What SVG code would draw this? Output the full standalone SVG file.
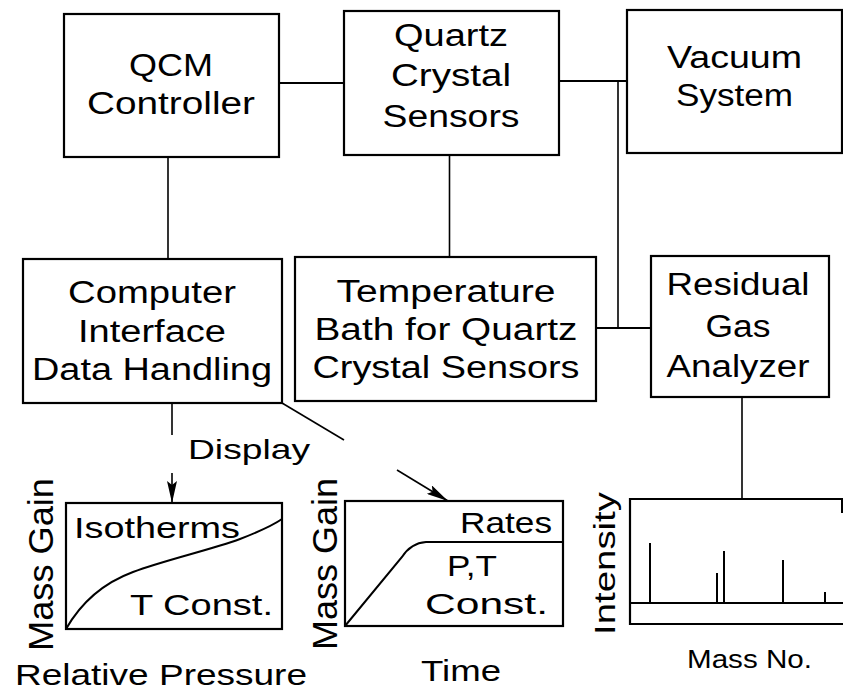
<svg xmlns="http://www.w3.org/2000/svg" width="843" height="692" viewBox="0 0 843 692">
<style>
  .box { fill: #fff; stroke: #000; stroke-width: 2.2; }
  .ln { fill: none; stroke: #000; stroke-width: 2; }
  .vl { fill: none; stroke: #000; stroke-width: 1.6; }
  .pk { fill: none; stroke: #000; stroke-width: 2; }
  text { font-family: "Liberation Sans", Arial, Helvetica, sans-serif; fill: #000; }
  .t { font-size: 31px; text-anchor: middle; }
  .p { font-size: 30px; }
  .r { font-size: 35px; }
</style>
<defs>
  <marker id="arr" viewBox="0 0 22 10" refX="22" refY="5" markerWidth="22" markerHeight="10" markerUnits="userSpaceOnUse" orient="auto">
    <path d="M0,0 L22,5 L0,10 L4,5 z" fill="#000"/>
  </marker>
</defs>
<rect width="843" height="692" fill="#fff"/>

<g id="connectors">
  <line class="ln" x1="279" y1="83" x2="344" y2="83"/>
  <line class="ln" x1="559" y1="81" x2="627" y2="81"/>
  <line class="vl" x1="618" y1="81" x2="618" y2="328"/>
  <line class="ln" x1="596" y1="328" x2="651" y2="328"/>
  <line class="vl" x1="168" y1="157" x2="168" y2="259"/>
  <line class="vl" x1="449.5" y1="155" x2="449.5" y2="257"/>
  <line class="vl" x1="742" y1="397" x2="742" y2="499"/>
  <line class="vl" x1="172" y1="403" x2="172" y2="435"/>
  <line class="vl" x1="172" y1="473" x2="172" y2="503" marker-end="url(#arr)"/>
  <line class="vl" x1="282" y1="403" x2="344" y2="440"/>
  <line class="vl" x1="397" y1="470" x2="448" y2="501" marker-end="url(#arr)"/>
</g>

<g id="qcm">
  <rect class="box" x="64" y="14" width="215" height="143"/>
  <text class="t" x="171" y="76" textLength="84" lengthAdjust="spacingAndGlyphs">QCM</text>
  <text class="t" x="171" y="114" textLength="168" lengthAdjust="spacingAndGlyphs">Controller</text>
</g>

<g id="quartz">
  <rect class="box" x="344" y="11" width="215" height="144"/>
  <text class="t" x="451" y="46" textLength="114" lengthAdjust="spacingAndGlyphs">Quartz</text>
  <text class="t" x="451" y="86" textLength="120" lengthAdjust="spacingAndGlyphs">Crystal</text>
  <text class="t" x="451" y="127" textLength="137" lengthAdjust="spacingAndGlyphs">Sensors</text>
</g>

<g id="vacuum">
  <rect class="box" x="627" y="10" width="215" height="143"/>
  <text class="t" x="734.5" y="68" textLength="135" lengthAdjust="spacingAndGlyphs">Vacuum</text>
  <text class="t" x="734.5" y="106" textLength="117" lengthAdjust="spacingAndGlyphs">System</text>
</g>

<g id="computer">
  <rect class="box" x="23" y="259" width="259" height="144"/>
  <text class="t" x="152" y="303" textLength="168" lengthAdjust="spacingAndGlyphs">Computer</text>
  <text class="t" x="152" y="342" textLength="148" lengthAdjust="spacingAndGlyphs">Interface</text>
  <text class="t" x="152" y="380" textLength="240" lengthAdjust="spacingAndGlyphs">Data Handling</text>
</g>

<g id="temperature">
  <rect class="box" x="295" y="257" width="301" height="144"/>
  <text class="t" x="446" y="302" textLength="219" lengthAdjust="spacingAndGlyphs">Temperature</text>
  <text class="t" x="446" y="340" textLength="263" lengthAdjust="spacingAndGlyphs">Bath for Quartz</text>
  <text class="t" x="446" y="378" textLength="267" lengthAdjust="spacingAndGlyphs">Crystal Sensors</text>
</g>

<g id="rga">
  <rect class="box" x="651" y="256" width="178" height="141"/>
  <text class="t" x="738" y="295" textLength="143" lengthAdjust="spacingAndGlyphs">Residual</text>
  <text class="t" x="738" y="337" textLength="65" lengthAdjust="spacingAndGlyphs">Gas</text>
  <text class="t" x="738" y="377" textLength="143" lengthAdjust="spacingAndGlyphs">Analyzer</text>
</g>

<g id="display-label">
  <text x="188" y="459" font-size="28" textLength="122" lengthAdjust="spacingAndGlyphs">Display</text>
</g>

<g id="isotherms">
  <rect class="box" x="66" y="503" width="216" height="126"/>
  <path class="ln" d="M66,629 C78,608 98,585 133,572 C165,560 210,550 240,539 C258,532 272,526 282,519"/>
  <text class="p" x="74" y="538" textLength="166" lengthAdjust="spacingAndGlyphs">Isotherms</text>
  <text class="p" x="130" y="615" textLength="143" lengthAdjust="spacingAndGlyphs">T Const.</text>
  <text class="r" transform="translate(53,651) rotate(-90)" textLength="173" lengthAdjust="spacingAndGlyphs">Mass Gain</text>
  <text class="p" x="15" y="685" textLength="292" lengthAdjust="spacingAndGlyphs">Relative Pressure</text>
</g>

<g id="rates">
  <rect class="box" x="345" y="501" width="218" height="125"/>
  <path class="ln" d="M345,626 L402,557 Q411,543 426,542 L563,542"/>
  <text class="p" x="460" y="533" textLength="92" lengthAdjust="spacingAndGlyphs">Rates</text>
  <text class="p" x="447" y="576" textLength="50" lengthAdjust="spacingAndGlyphs">P,T</text>
  <text class="p" x="425" y="614" textLength="123" lengthAdjust="spacingAndGlyphs">Const.</text>
  <text class="r" transform="translate(337,650) rotate(-90)" textLength="172" lengthAdjust="spacingAndGlyphs">Mass Gain</text>
  <text class="p" x="421" y="681" textLength="80" lengthAdjust="spacingAndGlyphs">Time</text>
</g>

<g id="spectrum">
  <path class="ln" style="stroke-width:2.2" d="M844,499 L630,499 L630,624 L844,624"/>
  <line class="ln" x1="842" y1="499" x2="842" y2="513"/>
  <line class="ln" x1="630" y1="603" x2="843" y2="603"/>
  <line class="pk" x1="650" y1="603" x2="650" y2="543"/>
  <line class="pk" x1="717" y1="603" x2="717" y2="573"/>
  <line class="pk" x1="724" y1="603" x2="724" y2="551"/>
  <line class="pk" x1="783" y1="603" x2="783" y2="560"/>
  <line class="pk" x1="825" y1="603" x2="825" y2="592"/>
  <text class="p" transform="translate(615,635) rotate(-90)" textLength="143" lengthAdjust="spacingAndGlyphs">Intensity</text>
  <text x="687" y="668" font-size="25" textLength="125" lengthAdjust="spacingAndGlyphs">Mass No.</text>
</g>
</svg>
